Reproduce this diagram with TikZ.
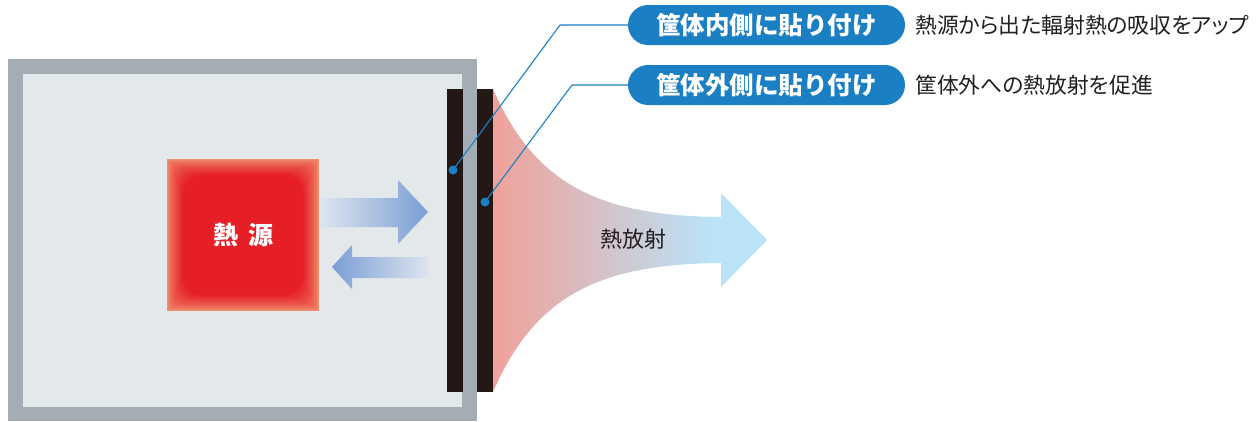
\documentclass[tikz,border=0pt]{standalone}
\usepackage{fontspec}
\setmainfont{Noto Sans CJK JP}
\newfontfamily\jp{Noto Sans CJK JP}
\newfontfamily\jpp{Noto Sans CJK JP}[RawFeature=+palt]
\definecolor{encgray}{HTML}{A5ADB4}
\definecolor{encin}{HTML}{E3E8EB}
\definecolor{barblack}{HTML}{231815}
\definecolor{fanpink}{HTML}{F0A199}
\definecolor{fanblue}{HTML}{BAE3F8}
\definecolor{heatred}{HTML}{E61F27}
\definecolor{heatedge}{HTML}{F0906E}
\definecolor{arrowblue}{HTML}{7A9ED5}
\definecolor{arrowpale}{HTML}{DDE5EE}
\definecolor{pillblue}{HTML}{1B7FC4}
\definecolor{textdark}{HTML}{231F20}
\pgfdeclarelayer{front}
\pgfsetlayers{main,front}
\tikzset{
  pill/.style={fill=pillblue, rounded corners=20pt, minimum width=277pt, minimum height=40pt,
    inner sep=0pt, text=white, font=\jp\bfseries\fontsize{24.5}{26}\selectfont},
  desc/.style={anchor=west, inner sep=0pt, text=textdark, font=\jpp\fontsize{21.8}{24}\selectfont},
  conn/.style={draw=pillblue, line width=1.1pt},
  dotmark/.style={circle, fill=pillblue, minimum size=9pt, inner sep=0pt},
  lbl/.style={inner sep=0pt, text=textdark, font=\jp\fontsize{22}{24}\selectfont}
}
\begin{document}
\begin{tikzpicture}[x=1pt,y=-1pt]
\useasboundingbox (0,0) rectangle (1258,421);
% enclosure
\fill[encgray] (8,59) rectangle (477,421);
\fill[encin] (23,74) rectangle (462,407);
% heat source with blurred edge
\foreach \i in {0,...,20}{
  \pgfmathsetmacro\p{100*(\i/20)^0.8}
  \fill[heatred!\p!heatedge, rounded corners=1.0*\i pt] (167+0.8*\i,159+0.8*\i) rectangle (319-0.8*\i,311-0.8*\i);
}
\node[inner sep=0pt, text=white, font=\jp\bfseries\fontsize{25}{27}\selectfont] (src) at (243,235) {熱\hspace{10pt}源};
% exchange arrows
\shade[left color=arrowpale, right color=arrowblue]
  (320,198) -- (398,198) -- (398,180) -- (428,212) -- (398,244) -- (398,227) -- (320,227) -- cycle;
\shade[left color=arrowblue, right color=arrowpale]
  (332,267) -- (352,245) -- (352,257) -- (428,257) -- (428,278) -- (352,278) -- (352,289) -- cycle;
% radiation fan
\begin{scope}
\clip (493,89) .. controls (535,185) and (600,216) .. (721,217) -- (721,193) -- (767,240) -- (721,287) -- (721,263) .. controls (600,264) and (535,295) .. (493,392) -- cycle;
\shade[left color=fanpink, right color=fanblue] (492,80) rectangle (712,400);
\fill[fanblue] (711,80) rectangle (770,400);
\end{scope}
\node[lbl] (rad) at (633,239) {熱放射};
% sheets
\fill[barblack] (447,89) rectangle (463,392);
\fill[barblack] (477,89) rectangle (493,392);
% labels
\node[pill] (p1) at (766.5,25) {筐体内側に貼り付け};
\node[pill] (p2) at (766.5,85) {筐体外側に貼り付け};
\node[desc] (d1) at (915,25) {熱源から出た輻射熱の吸収をアップ};
\node[desc] (d2) at (915,85) {筐体外への熱放射を促進};
% connectors
\begin{pgfonlayer}{front}
\node[dotmark] (dot1) at (453,170) {};
\node[dotmark] (dot2) at (485,202) {};
\end{pgfonlayer}
\coordinate (k1) at (560,25);
\coordinate (k2) at (572,85);
\draw[conn] (p1.west) -- (k1) -- (dot1.center);
\draw[conn] (p2.west) -- (k2) -- (dot2.center);
\end{tikzpicture}
\end{document}
